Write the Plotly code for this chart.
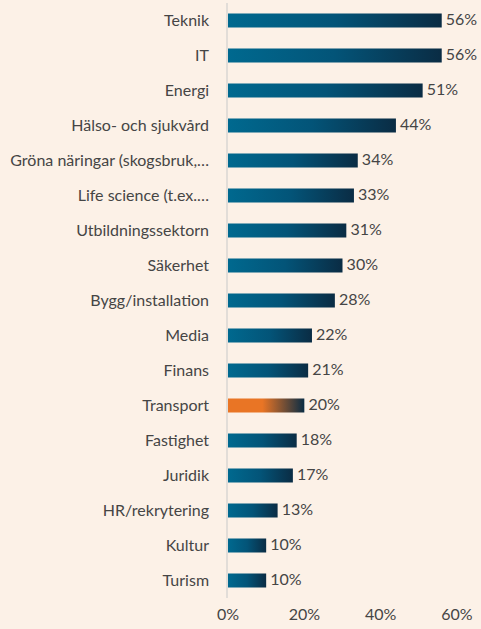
"""
plot.py
------------------------------------
Branscher - horisontellt stapeldiagram
"""

import plotly.graph_objects as go

categories = [
    "Teknik", "IT", "Energi", "Hälso- och sjukvård",
    "Gröna näringar (skogsbruk,…", "Life science (t.ex.…",
    "Utbildningssektorn", "Säkerhet", "Bygg/installation", "Media",
    "Finans", "Transport", "Fastighet", "Juridik", "HR/rekrytering",
    "Kultur", "Turism",
]
values = [0.56, 0.56, 0.51, 0.44, 0.34, 0.33, 0.31, 0.30, 0.28, 0.22,
          0.21, 0.20, 0.18, 0.17, 0.13, 0.10, 0.10]
highlight = "Transport"

tick_vals = [0, 0.2, 0.4, 0.6]
tick_text = ["0%", "20%", "40%", "60%"]

BG = "#FCF1E7"
BLUE_SCALE = [[0, "#00698F"], [0.5, "#035478"], [1, "#0A2C44"]]
ORANGE_SCALE = [[0, "#E97525"], [0.45, "#E97525"], [1, "#0A2C44"]]
HALF = 0.2  # half bar thickness in category units

fig = go.Figure()

for i, (cat, val) in enumerate(zip(categories, values)):
    scale = ORANGE_SCALE if cat == highlight else BLUE_SCALE
    fig.add_trace(go.Scatter(
        x=[0, val, val, 0, 0],
        y=[i - HALF, i - HALF, i + HALF, i + HALF, i - HALF],
        mode="lines",
        line=dict(width=0),
        fill="toself",
        fillgradient=dict(type="horizontal", colorscale=scale),
        hoverinfo="skip",
        showlegend=False,
    ))

# value labels to the right of each bar
fig.add_trace(go.Scatter(
    x=values,
    y=list(range(len(categories))),
    mode="text",
    text=[f"\u00a0{round(v * 100)}%" for v in values],
    textposition="middle right",
    textfont=dict(size=16, color="#454545"),
    cliponaxis=False,
    showlegend=False,
    hoverinfo="skip",
))

fig.update_layout(
    width=481,
    height=629,
    margin=dict(l=228, r=24, t=3, b=31, autoexpand=False),
    paper_bgcolor=BG,
    plot_bgcolor=BG,
    font=dict(family="Lato, Open Sans, sans-serif", size=16, color="#454545"),
    xaxis=dict(
        range=[0, 0.6],
        tickvals=tick_vals,
        ticktext=tick_text,
        showgrid=False,
        zeroline=False,
        showline=False,
        ticklabelstandoff=5,
        automargin=False,
        fixedrange=True,
    ),
    yaxis=dict(
        range=[len(categories) - 0.5, -0.5],
        tickvals=list(range(len(categories))),
        ticktext=categories,
        showgrid=False,
        zeroline=False,
        showline=True,
        linecolor="#E2DDD8",
        linewidth=1.5,
        ticklabelstandoff=14,
        automargin=False,
        fixedrange=True,
    ),
)

fig.write_html(
    "out.html",
    config={"displayModeBar": False},
    post_script="document.body.style.margin='0';",
)
